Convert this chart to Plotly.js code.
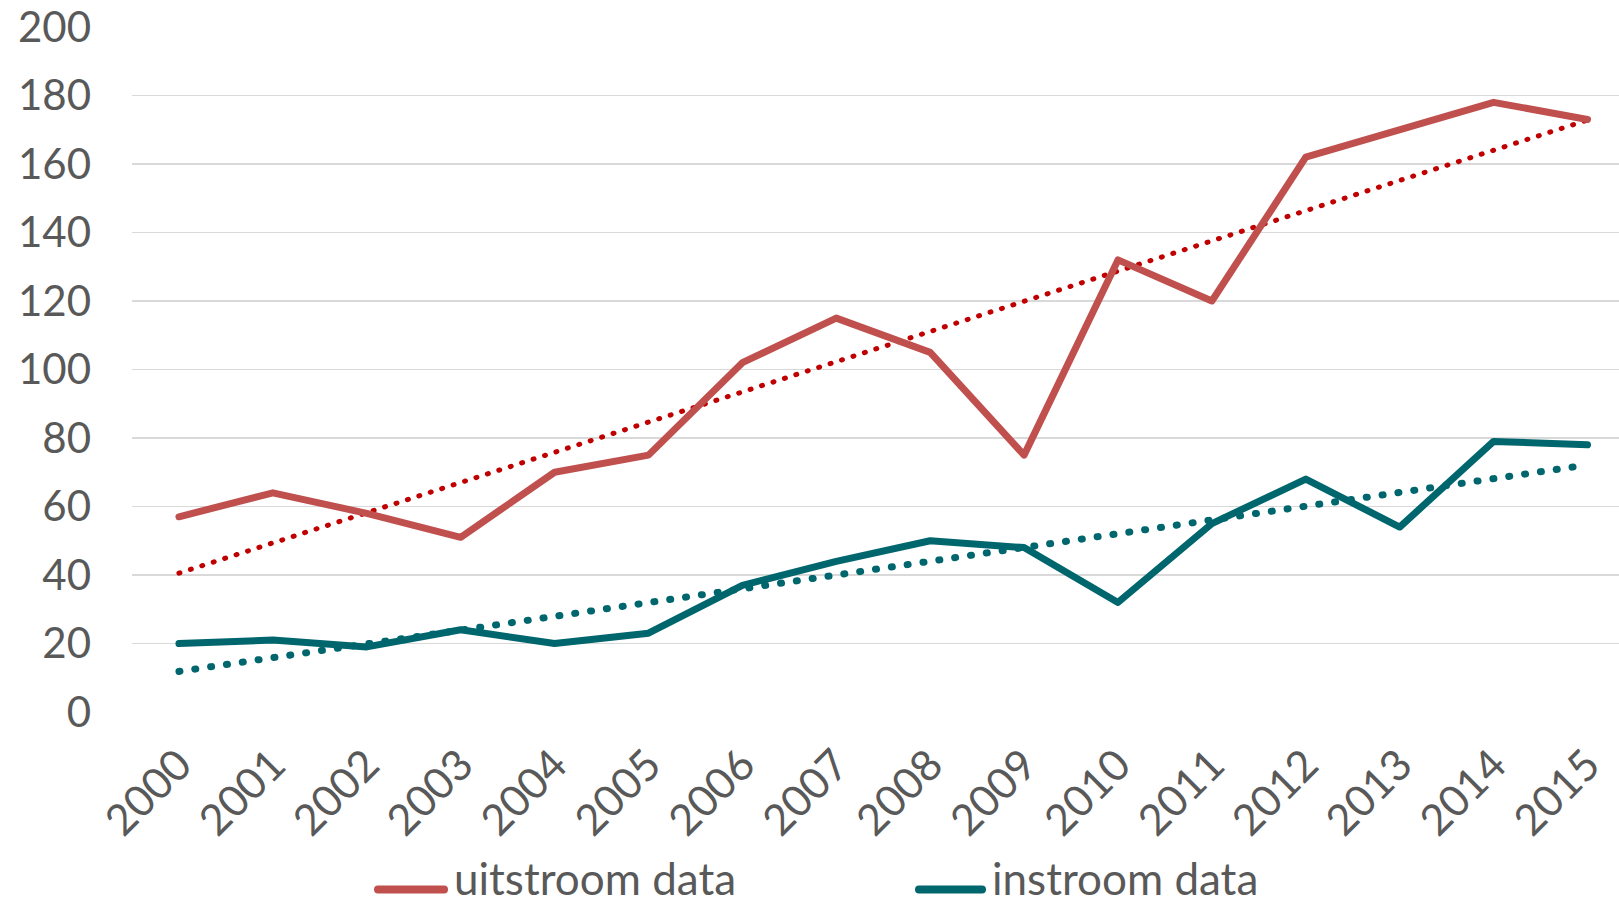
<!DOCTYPE html>
<html>
<head>
<meta charset="utf-8">
<script src="https://cdn.plot.ly/plotly-3.0.1.min.js"></script>
<style>
html,body{margin:0;padding:0;background:#fff;}
#chart{width:1619px;height:909px;}
#chart .scatterlayer path.js-line{stroke-linecap:round !important;stroke-linejoin:round !important;}
#chart .shapelayer path{stroke-linecap:round !important;}
</style>
</head>
<body>
<div id="chart"></div>
<script>
const years = ["2000","2001","2002","2003","2004","2005","2006","2007","2008","2009","2010","2011","2012","2013","2014","2015"];
const uitstroom = [57,64,58,51,70,75,102,115,105,75,132,120,162,170,178,173];
const instroom = [20,21,19,24,20,23,37,44,50,48,32,55,68,54,79,78];
const yTicks = [0,20,40,60,80,100,120,140,160,180,200];
const seriesNames = ["uitstroom data","instroom data"];

const idx = years.map((_, i) => i);
function linearTrend(ys) {
  const n = ys.length;
  const mx = idx.reduce((a, b) => a + b, 0) / n;
  const my = ys.reduce((a, b) => a + b, 0) / n;
  let sxy = 0, sxx = 0;
  for (let i = 0; i < n; i++) { sxy += (i - mx) * (ys[i] - my); sxx += (i - mx) * (i - mx); }
  const b = sxy / sxx, a = my - b * mx;
  return idx.map(i => a + b * i);
}

const RED = "#C0504D", TEAL = "#00666E", TRENDRED = "#C00000";
const FONT = "Lato, 'Open Sans', sans-serif";

const traces = [
  {x: idx, y: linearTrend(uitstroom), mode: "lines", line: {color: TRENDRED, width: 5, dash: "1px,11px"}, hoverinfo: "skip", showlegend: false},
  {x: idx, y: linearTrend(instroom), mode: "lines", line: {color: TEAL, width: 7, dash: "1px,15px"}, hoverinfo: "skip", showlegend: false},
  {x: idx, y: uitstroom, name: seriesNames[0], mode: "lines", line: {color: RED, width: 7}, showlegend: false},
  {x: idx, y: instroom, name: seriesNames[1], mode: "lines", line: {color: TEAL, width: 7}, showlegend: false}
];

const L = 132, plotW = 1619 - L, T = 27, B = 712.4, plotH = B - T;
const px = v => (v - L) / plotW;
const py = v => (B - v) / plotH;
const legY = py(890);

const layout = {
  width: 1619, height: 909,
  margin: {l: L, r: 0, t: T, b: 909 - B},
  paper_bgcolor: "#fff", plot_bgcolor: "#fff",
  showlegend: false,
  font: {family: FONT, color: "#595959", size: 42},
  xaxis: {
    range: [-0.5, 15 + (1619 - 1587.5) / 93.9],
    tickvals: idx, ticktext: years, tickangle: -45,
    showgrid: false, zeroline: false, showline: false, ticks: "",
    ticklabelstandoff: 18,
    tickfont: {family: FONT, size: 43, color: "#595959"}
  },
  yaxis: {
    range: [0, 200], tickvals: yTicks, ticktext: yTicks.map(String),
    showgrid: true, gridcolor: "#D9D9D9", gridwidth: 1.5,
    zeroline: false, showline: false, ticks: "",
    ticklabelstandoff: 40,
    tickfont: {family: FONT, size: 42, color: "#595959"}
  },
  shapes: [
    {type: "line", xref: "paper", yref: "paper", x0: px(378), x1: px(444), y0: legY, y1: legY, line: {color: RED, width: 8}},
    {type: "line", xref: "paper", yref: "paper", x0: px(919), x1: px(982), y0: legY, y1: legY, line: {color: TEAL, width: 8}}
  ],
  annotations: [
    {xref: "paper", yref: "paper", x: px(452), y: py(907), xanchor: "left", yanchor: "bottom", text: seriesNames[0], showarrow: false, font: {family: FONT, size: 44, color: "#595959"}},
    {xref: "paper", yref: "paper", x: px(990), y: py(907), xanchor: "left", yanchor: "bottom", text: seriesNames[1], showarrow: false, font: {family: FONT, size: 44, color: "#595959"}}
  ]
};

Plotly.newPlot("chart", traces, layout, {displayModeBar: false, staticPlot: true});
</script>
</body>
</html>
